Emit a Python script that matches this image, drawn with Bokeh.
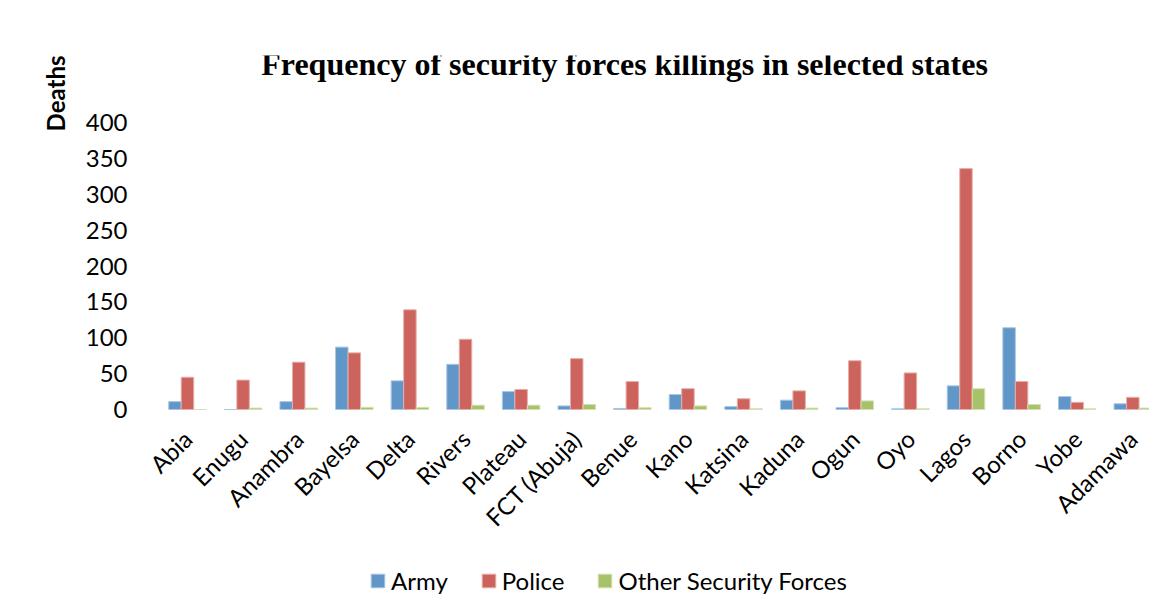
import math
from bokeh.plotting import figure
from bokeh.models import FixedTicker, Range1d, Legend, LegendItem, Label, Title, ColumnDataSource
from bokeh.transform import dodge
from bokeh.embed import file_html
from bokeh.resources import INLINE

states = ["Abia", "Enugu", "Anambra", "Bayelsa", "Delta", "Rivers", "Plateau", "FCT (Abuja)",
          "Benue", "Kano", "Katsina", "Kaduna", "Ogun", "Oyo", "Lagos", "Borno", "Yobe", "Adamawa"]
army = [11, 0, 11, 87, 40, 63, 25, 5, 1.5, 21, 4, 13, 2.5, 1, 33, 114, 18, 8]
police = [45, 41, 66, 79, 139, 98, 28, 71, 39, 29, 15, 26, 68, 51, 336, 39, 10, 17]
other = [0, 2, 2, 3, 3, 6, 6, 7, 2.5, 5, 1, 2, 12, 1, 29, 7, 1, 2]
y_ticks = [0, 50, 100, 150, 200, 250, 300, 350, 400]

idx = list(range(len(states)))
src = ColumnDataSource(dict(idx=idx, army=army, police=police, other=other))

# frame: left 145, top 55, right 1149, bottom 598 ; value 0 at y=409
px_per_unit = 0.717
y_start = -(598 - 409) / px_per_unit
y_end = (409 - 55) / px_per_unit

p = figure(width=1149, height=598, x_range=Range1d(-0.755, 17.30), y_range=Range1d(y_start, y_end),
           output_backend="svg", toolbar_location=None,
           min_border_left=145, min_border_right=0, min_border_top=55, min_border_bottom=0)
p.outline_line_color = None
p.xgrid.visible = False
p.ygrid.visible = False

bw = 0.2248
r1 = p.vbar(x=dodge("idx", -bw, range=p.x_range), top="army", width=bw, source=src,
            fill_color="#6196c8", line_color="#a9c6e2", line_width=1)
r2 = p.vbar(x=dodge("idx", 0, range=p.x_range), top="police", width=bw, source=src,
            fill_color="#cd635d", line_color="#e8aeab", line_width=1)
r3 = p.vbar(x=dodge("idx", bw, range=p.x_range), top="other", width=bw, source=src,
            fill_color="#a7c26a", line_color="#d2e1b2", line_width=1)

# axes
p.yaxis.ticker = FixedTicker(ticks=y_ticks)
p.yaxis.axis_line_color = None
p.yaxis.major_tick_line_color = None
p.yaxis.minor_tick_line_color = None
p.yaxis.major_label_standoff = 12
p.yaxis.major_label_text_font = "Lato"
p.yaxis.major_label_text_font_size = "24px"
p.yaxis.major_label_text_color = "#000000"

p.xaxis.fixed_location = 0
p.xaxis.ticker = FixedTicker(ticks=idx)
p.xaxis.major_label_overrides = {i: s for i, s in zip(idx, states)}
p.xaxis.major_label_orientation = math.pi / 4
p.xaxis.axis_line_color = None
p.xaxis.major_tick_line_color = None
p.xaxis.minor_tick_line_color = None
p.xaxis.major_label_standoff = 19
p.xaxis.major_label_text_font = "Lato"
p.xaxis.major_label_text_font_size = "24px"
p.xaxis.major_label_text_color = "#000000"

# y title
p.add_layout(Title(text="Deaths", align="right", text_font="Lato", text_font_size="24px",
                   text_font_style="bold", text_color="#000000", standoff=26), "left")

# chart title
p.add_layout(Label(x=7.86, y=(409 - 63) / px_per_unit,
                   text="Frequency of security forces killings in selected states",
                   text_align="center", text_baseline="middle", text_font="Liberation Serif",
                   text_font_style="bold", text_font_size="32px", text_color="#000000"))

legend = Legend(items=[LegendItem(label="Army", renderers=[r1]),
                       LegendItem(label="Police", renderers=[r2]),
                       LegendItem(label="Other Security Forces", renderers=[r3])],
                orientation="horizontal", location=(224, 3),
                border_line_color=None, background_fill_alpha=0,
                label_text_font="Lato", label_text_font_size="24px", label_text_color="#000000",
                glyph_width=17, glyph_height=17, spacing=32, label_standoff=5,
                padding=0, margin=0)
p.add_layout(legend, "center")

open("out.html", "w").write(file_html(p, INLINE))
